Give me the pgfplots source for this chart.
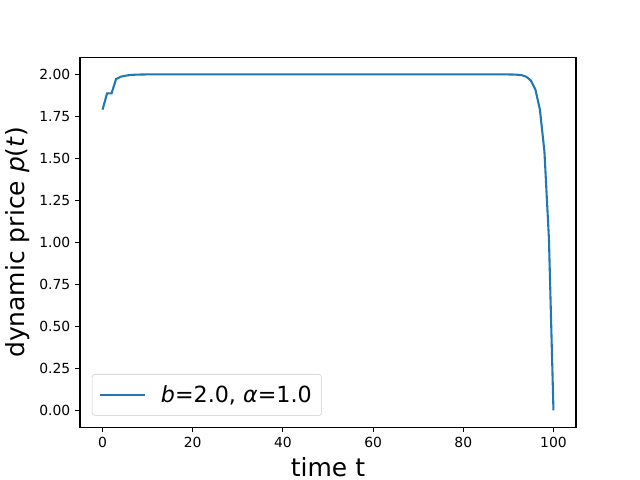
\documentclass[border=0pt]{standalone}
\usepackage{pgfplots}
\pgfplotsset{compat=1.18}
\usepackage{fontspec}
\setmainfont{DejaVu Sans}
\definecolor{mplblue}{HTML}{1F77B4}
\definecolor{legframe}{HTML}{CCCCCC}
\begin{document}
\begin{tikzpicture}
\path[use as bounding box] (-57.6pt,-38.016pt) rectangle (403.2pt,307.584pt);
\begin{axis}[
  at={(0,0)}, anchor=south west, scale only axis,
  width=357.12pt, height=266.112pt,
  xmin=-5, xmax=105, ymin=-0.1, ymax=2.1,
  xtick={0,20,40,60,80,100},
  ytick={0,0.25,0.5,0.75,1,1.25,1.5,1.75,2},
  yticklabel style={/pgf/number format/.cd, fixed, fixed zerofill, precision=2},
  /pgf/number format/assume math mode=true,
  tick align=outside, tick pos=left, major tick length=3.5pt,
  every tick/.style={black, line width=0.8pt},
  axis line style={line width=0.8pt},
  ticklabel style={font=\fontsize{10}{12}\selectfont},
  xlabel={time t},
  ylabel={dynamic price \textit{p}(\textit{t})},
  label style={font=\fontsize{18}{21}\selectfont},
  legend style={at={(0.024,0.031)}, anchor=south west, draw=legframe, rounded corners=2pt,
    fill=white, fill opacity=0.8, text opacity=1, font=\fontsize{16}{19}\selectfont,
    inner xsep=5pt, inner ysep=6pt},
  legend cell align=left,
  legend image code/.code={\draw[#1] (0pt,0pt) -- (32pt,0pt);},
]
\addplot[mplblue, line width=1.5pt] coordinates {
(0,1.79) (1,1.887) (2,1.887) (3,1.972) (4,1.986) (5,1.992) (6,1.996) (7,1.998)
(8,1.999) (9,1.9995) (10,1.9998) (11,1.9999) (12,2.0)
(88,2.0) (89,1.9999) (90,1.9997) (91,1.9993) (92,1.998) (93,1.995) (94,1.986)
(95,1.963) (96,1.91) (97,1.79) (98,1.54) (99,1.02) (100,0.0)
};
\addlegendentry{\hspace{9pt}\textit{b}=2.0, \textit{α}=1.0\hspace{5pt}}
\end{axis}
\end{tikzpicture}
\end{document}
